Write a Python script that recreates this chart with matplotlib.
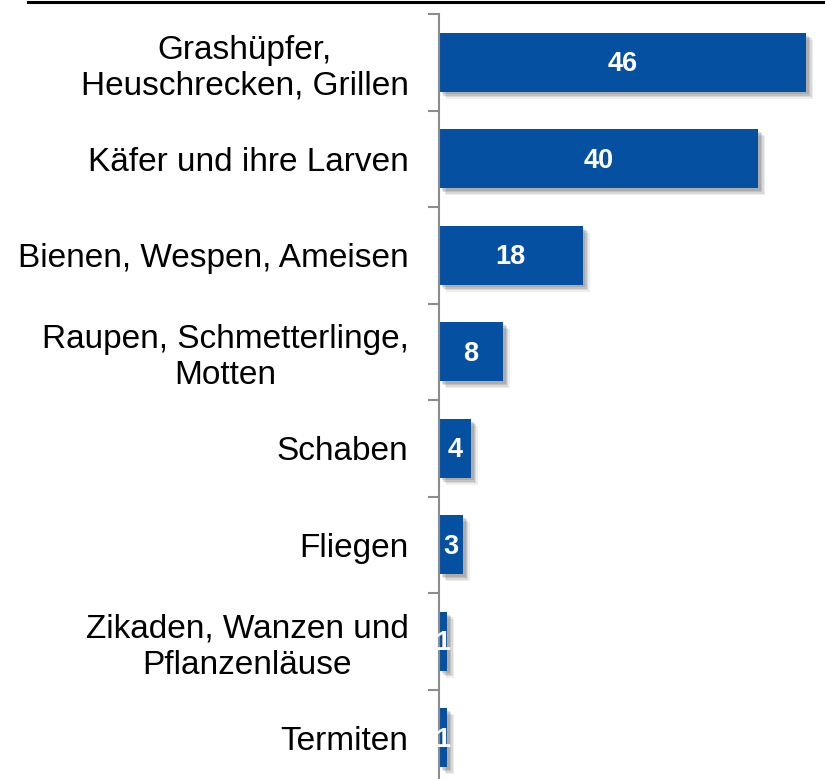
import matplotlib
import matplotlib.pyplot as plt
import matplotlib.patheffects as pe
from matplotlib.lines import Line2D
import numpy as np

categories = ['Grashüpfer,\nHeuschrecken, Grillen', 'Käfer und ihre Larven',
              'Bienen, Wespen, Ameisen', 'Raupen, Schmetterlinge,\nMotten',
              'Schaben', 'Fliegen', 'Zikaden, Wanzen und\nPflanzenläuse', 'Termiten']
values = [46, 40, 18, 8, 4, 3, 1, 1]

BAR_COLOR = '#0650A2'
AXIS_GRAY = '#8c8c8c'

plt.rcParams['font.family'] = ['Liberation Sans', 'DejaVu Sans']

fig = plt.figure(figsize=(8.25, 7.79), dpi=100)
# axes placed in pixels: left edge at x=439, top tick at y=14, bottom boundary below the image
W, H = 825, 779
ax = fig.add_axes([439 / W, -7 / H, (W - 439) / W, 772 / H])

y = np.arange(len(categories))
bars = ax.barh(y, values, height=0.61, color=BAR_COLOR, zorder=2)
# soft drop shadow: a few stacked faint offsets
shadow = [pe.SimplePatchShadow(offset=(o, -o), shadow_rgbFace='#606060', alpha=a)
          for o, a in [(5, 0.10), (4, 0.15), (3, 0.2), (2, 0.2)]]
for b in bars:
    b.set_path_effects(shadow + [pe.Normal()])

for yi, v in zip(y, values):
    ax.text(v / 2, yi + 0.02, str(v), ha='center', va='center', color='white',
            fontsize=19.5, fontweight='bold', zorder=3)

ax.set_xlim(0, (W - 439) / 7.98)
ax.set_ylim(len(categories) - 0.5, -0.5)

ax.set_yticks(y)
ax.set_yticklabels(categories, fontsize=24, multialignment='center')
ax.set_yticks(np.arange(len(categories) + 1) - 0.5, minor=True)
ax.tick_params(axis='y', which='major', length=0, pad=22)
ax.tick_params(axis='y', which='minor', length=8, width=1.5, color=AXIS_GRAY, direction='out')
ax.set_xticks([])

for s in ['top', 'right', 'bottom']:
    ax.spines[s].set_visible(False)
ax.spines['left'].set_color(AXIS_GRAY)
ax.spines['left'].set_linewidth(1.5)

# black rule along the top
fig.add_artist(Line2D([28 / W, 1], [1 - 2 / H, 1 - 2 / H], color='black', linewidth=2.2,
                      transform=fig.transFigure))

fig.savefig('out.png', dpi=100)
